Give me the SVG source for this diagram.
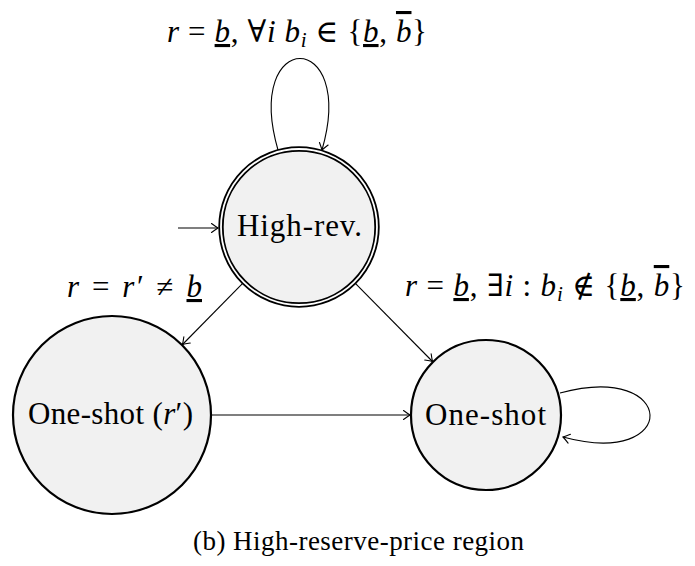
<svg xmlns="http://www.w3.org/2000/svg" width="695" height="566" viewBox="0 0 695 566">
<style>
  .node { fill: #f1f1f1; stroke: #000; stroke-width: 2.2; }
  .edge { fill: none; stroke: #000; stroke-width: 1.1; marker-end: url(#arr); }
  .t { font-family: "Liberation Serif", "DejaVu Serif", serif; font-size: 31px; fill: #000; }
  .m { font-family: "Liberation Serif", "DejaVu Serif", serif; font-size: 31px; fill: #000; }
  .i { font-style: italic; }
  .cap { font-family: "Liberation Serif", "DejaVu Serif", serif; font-size: 27px; fill: #000; }
</style>
<defs>
  <marker id="arr" markerUnits="userSpaceOnUse" markerWidth="14" markerHeight="14" viewBox="-10 -7 12 14" refX="0" refY="0" orient="auto">
    <path d="M -6.5 -4.5 Q -2 -1.2 0 0 Q -2 1.2 -6.5 4.5" fill="none" stroke="#000" stroke-width="1.1" stroke-linecap="round"/>
  </marker>
</defs>
<rect width="695" height="566" fill="#fff"/>

<g id="edges">
  <line class="edge" x1="178" y1="228" x2="218" y2="228"/>
  <path class="edge" d="M 278 150 C 243 28, 357 28, 322 150"/>
  <line class="edge" x1="242.4" y1="283.6" x2="182.5" y2="344.5"/>
  <line class="edge" x1="355.6" y1="283.6" x2="432.5" y2="361.5"/>
  <line class="edge" x1="211" y1="415" x2="410" y2="415"/>
  <path class="edge" d="M 560 393 C 678 361, 681 469, 563 437"/>
</g>

<g id="edge-labels">
  <text class="m" x="167" y="42" textLength="260" lengthAdjust="spacing"><tspan class="i">r</tspan> = <tspan class="i" text-decoration="underline">b</tspan>, ∀<tspan class="i">i</tspan> <tspan class="i">b</tspan><tspan class="i" font-size="21" dy="5">i</tspan><tspan dy="-5"> ∈ {</tspan><tspan class="i" text-decoration="underline">b</tspan>, <tspan class="i" text-decoration="overline">b</tspan>}</text>
  <text class="m" x="67" y="297" textLength="135" lengthAdjust="spacing"><tspan class="i">r</tspan> = <tspan class="i">r</tspan>′ ≠ <tspan class="i" text-decoration="underline">b</tspan></text>
  <text class="m" x="405" y="296" textLength="280" lengthAdjust="spacing"><tspan class="i">r</tspan> = <tspan class="i" text-decoration="underline">b</tspan>, ∃<tspan class="i">i</tspan> :  <tspan class="i">b</tspan><tspan class="i" font-size="21" dy="5">i</tspan><tspan dy="-5"> ∉ {</tspan><tspan class="i" text-decoration="underline">b</tspan>, <tspan class="i" text-decoration="overline">b</tspan>}</text>
</g>

<g id="n-highrev">
  <circle cx="299" cy="227" r="78" fill="#f1f1f1" stroke="#000" stroke-width="5.4"/>
  <circle cx="299" cy="227" r="78" fill="none" stroke="#fff" stroke-width="1.8"/>
  <text class="t" x="237" y="236" textLength="125" lengthAdjust="spacing">High-rev.</text>
</g>

<g id="n-oneshot-r">
  <circle class="node" cx="112" cy="415" r="99"/>
  <text class="t" x="28" y="424" textLength="165" lengthAdjust="spacing">One-shot (<tspan class="i">r</tspan>′)</text>
</g>

<g id="n-oneshot">
  <circle class="node" cx="486" cy="415" r="75"/>
  <text class="t" x="425" y="425" textLength="121" lengthAdjust="spacing">One-shot</text>
</g>

<text class="cap" x="193" y="550" textLength="331" lengthAdjust="spacing">(b) High-reserve-price region</text>
</svg>
